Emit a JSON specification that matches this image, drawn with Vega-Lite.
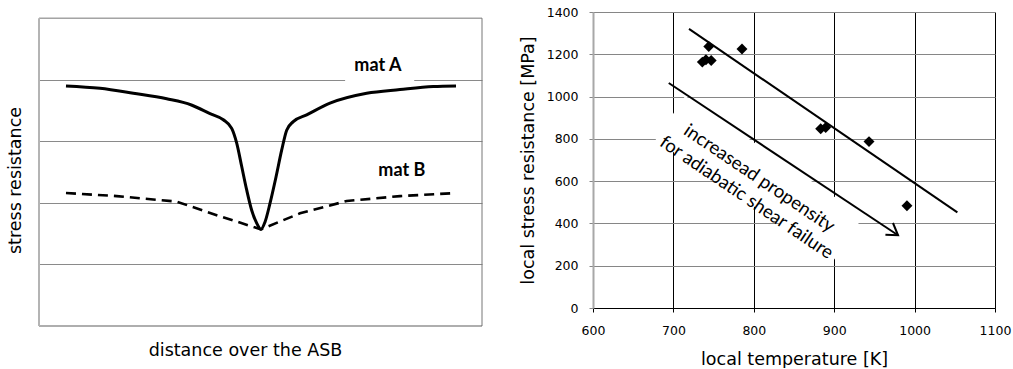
{
  "$schema": "https://vega.github.io/schema/vega-lite/v6.json",
  "background": "white",
  "padding": {"left": 6, "top": 6, "right": 1, "bottom": 0},
  "bounds": "flush",
  "spacing": 111,
  "config": {
    "view": {"stroke": null},
    "font": "DejaVu Sans",
    "axis": {
      "labelFont": "DejaVu Sans",
      "titleFont": "DejaVu Sans",
      "labelColor": "#000000",
      "titleColor": "#000000",
      "titleFontWeight": "normal",
      "titleFontSize": 17.5,
      "labelFontSize": 12.5,
      "labelFlush": false,
      "labelOverlap": false
    }
  },
  "datasets": {
    "frame": [{}],
    "profiles": [
      {"d": 6.09, "s": 3.90, "mat": "mat A"},
      {"d": 13.77, "s": 3.86, "mat": "mat A"},
      {"d": 21.29, "s": 3.78, "mat": "mat A"},
      {"d": 28.83, "s": 3.69, "mat": "mat A"},
      {"d": 34.4, "s": 3.59, "mat": "mat A"},
      {"d": 38.6, "s": 3.45, "mat": "mat A"},
      {"d": 41.6, "s": 3.35, "mat": "mat A"},
      {"d": 43.5, "s": 3.21, "mat": "mat A"},
      {"d": 44.63, "s": 2.97, "mat": "mat A"},
      {"d": 45.76, "s": 2.59, "mat": "mat A"},
      {"d": 46.88, "s": 2.21, "mat": "mat A"},
      {"d": 48.01, "s": 1.88, "mat": "mat A"},
      {"d": 49.14, "s": 1.67, "mat": "mat A"},
      {"d": 50.1, "s": 1.57, "mat": "mat A"},
      {"d": 51.02, "s": 1.69, "mat": "mat A"},
      {"d": 52.14, "s": 1.99, "mat": "mat A"},
      {"d": 53.5, "s": 2.42, "mat": "mat A"},
      {"d": 54.79, "s": 2.86, "mat": "mat A"},
      {"d": 55.91, "s": 3.18, "mat": "mat A"},
      {"d": 57.4, "s": 3.32, "mat": "mat A"},
      {"d": 60.43, "s": 3.43, "mat": "mat A"},
      {"d": 65.69, "s": 3.62, "mat": "mat A"},
      {"d": 73.97, "s": 3.78, "mat": "mat A"},
      {"d": 81.49, "s": 3.84, "mat": "mat A"},
      {"d": 89.01, "s": 3.89, "mat": "mat A"},
      {"d": 94.13, "s": 3.90, "mat": "mat A"},
      {"d": 6.09, "s": 2.16, "mat": "mat B"},
      {"d": 17.54, "s": 2.11, "mat": "mat B"},
      {"d": 31.08, "s": 2.02, "mat": "mat B"},
      {"d": 40.11, "s": 1.80, "mat": "mat B"},
      {"d": 50.1, "s": 1.57, "mat": "mat B"},
      {"d": 58.92, "s": 1.83, "mat": "mat B"},
      {"d": 69.46, "s": 2.03, "mat": "mat B"},
      {"d": 81.49, "s": 2.11, "mat": "mat B"},
      {"d": 94.13, "s": 2.16, "mat": "mat B"}
    ],
    "curveLabels": [
      {"d": 76.5, "s": 4.22, "mat": "mat A"},
      {"d": 81.9, "s": 2.52, "mat": "mat B"}
    ],
    "measurements": [
      {"T": 736, "sigma": 1163},
      {"T": 740.5, "sigma": 1174},
      {"T": 744, "sigma": 1237},
      {"T": 747, "sigma": 1171},
      {"T": 785.3, "sigma": 1225},
      {"T": 883.2, "sigma": 848},
      {"T": 889.4, "sigma": 854},
      {"T": 943.3, "sigma": 787},
      {"T": 990.5, "sigma": 484}
    ],
    "trend": [
      {"T": 719.4, "sigma": 1320, "T_end": 1053.2, "sigma_end": 452}
    ],
    "arrow": [
      {"part": "shaft", "k": 0, "T": 694.2, "sigma": 1064},
      {"part": "shaft", "k": 1, "T": 979.4, "sigma": 344},
      {"part": "head", "k": 0, "T": 963.7, "sigma": 347},
      {"part": "head", "k": 1, "T": 979.4, "sigma": 344},
      {"part": "head", "k": 2, "T": 973.1, "sigma": 402}
    ],
    "note": [
      {"T": 807, "sigma": 614, "text": "increasead propensity\nfor adiabatic shear failure"}
    ]
  },
  "hconcat": [
    {
      "width": 443,
      "height": 314,
      "encoding": {
        "x": {
          "type": "quantitative",
          "scale": {"domain": [0, 100], "nice": false, "zero": false},
          "axis": {
            "title": "distance over the ASB",
            "labels": false, "ticks": false, "domain": false, "grid": false,
            "titlePadding": 15,
            "titleX": 206
          }
        },
        "y": {
          "type": "quantitative",
          "scale": {"domain": [0, 5.1], "nice": false, "zero": false},
          "axis": {
            "title": "stress resistance",
            "labels": false, "ticks": false, "domain": false,
            "grid": true, "values": [1, 2, 3, 4],
            "gridColor": "#8a8a8a", "gridWidth": 1,
            "titlePadding": 15,
            "titleY": 168
          }
        }
      },
      "layer": [
        {
          "data": {"name": "frame"},
          "mark": {"type": "rule", "color": "#767676", "strokeWidth": 1},
          "encoding": {"y": {"datum": 5}, "x": {"datum": 0}, "x2": {"datum": 100}}
        },
        {
          "data": {"name": "frame"},
          "mark": {"type": "rule", "color": "#767676", "strokeWidth": 1},
          "encoding": {"x": {"datum": 100}, "y": {"datum": 0}, "y2": {"datum": 5}}
        },
        {
          "data": {"name": "frame"},
          "mark": {"type": "rule", "color": "#5f5f5f", "strokeWidth": 1.2},
          "encoding": {"y": {"datum": 0}, "x": {"datum": 0}, "x2": {"datum": 100}}
        },
        {
          "data": {"name": "frame"},
          "mark": {"type": "rule", "color": "#b4b4b4", "strokeWidth": 2},
          "encoding": {"x": {"datum": 0}, "y": {"datum": 0}, "y2": {"datum": 5}}
        },
        {
          "data": {"name": "frame"},
          "mark": {"type": "rect", "color": "white"},
          "encoding": {
            "x": {"datum": 69.1}, "x2": {"datum": 84.7},
            "y": {"datum": 3.93}, "y2": {"datum": 4.45}
          }
        },
        {
          "data": {"name": "profiles"},
          "transform": [{"filter": "datum.mat === 'mat A'"}],
          "mark": {"type": "line", "color": "#000000", "strokeWidth": 3, "interpolate": "monotone"},
          "encoding": {"x": {"field": "d"}, "y": {"field": "s"}}
        },
        {
          "data": {"name": "profiles"},
          "transform": [{"filter": "datum.mat === 'mat B'"}],
          "mark": {"type": "line", "color": "#000000", "strokeWidth": 2.6, "strokeDash": [10, 6]},
          "encoding": {"x": {"field": "d"}, "y": {"field": "s"}}
        },
        {
          "data": {"name": "curveLabels"},
          "mark": {"type": "text", "font": "Lato", "fontWeight": "bold", "fontSize": 18, "color": "#000000", "align": "center", "baseline": "middle"},
          "encoding": {"x": {"field": "d"}, "y": {"field": "s"}, "text": {"field": "mat"}}
        }
      ]
    },
    {
      "width": 402,
      "height": 296,
      "encoding": {
        "x": {
          "type": "quantitative",
          "scale": {"domain": [600, 1100], "nice": false, "zero": false},
          "axis": {
            "title": "local temperature [K]",
            "values": [600, 700, 800, 900, 1000, 1100],
            "format": "d",
            "grid": true,
            "gridColor": {"condition": {"test": "datum.value === 600", "value": "#a8a8a8"}, "value": "#000000"},
            "gridWidth": 1,
            "domainColor": "#000000",
            "tickColor": "#000000",
            "tickSize": 4,
            "labelPadding": 12,
            "titlePadding": 14
          }
        },
        "y": {
          "type": "quantitative",
          "scale": {"domain": [0, 1400], "nice": false, "zero": false},
          "axis": {
            "title": "local stress resistance [MPa]",
            "values": [0, 200, 400, 600, 800, 1000, 1200, 1400],
            "format": "d",
            "grid": true,
            "gridColor": {"condition": {"test": "datum.value === 0", "value": "#000000"}, "value": "#868686"},
            "gridWidth": 1,
            "domainColor": "#a8a8a8",
            "domainWidth": 2,
            "tickColor": "#868686",
            "tickSize": 4,
            "labelPadding": 11,
            "titlePadding": 9
          }
        }
      },
      "layer": [
        {
          "data": {"name": "note"},
          "mark": {
            "type": "point",
            "shape": "M-1,-0.2465H1V0.2465H-1Z",
            "size": 46225,
            "angle": 34,
            "filled": true,
            "color": "white",
            "opacity": 1,
            "strokeWidth": 0
          },
          "encoding": {"x": {"field": "T"}, "y": {"field": "sigma"}}
        },
        {
          "data": {"name": "trend"},
          "mark": {"type": "rule", "color": "#000000", "strokeWidth": 2},
          "encoding": {
            "x": {"field": "T"}, "y": {"field": "sigma"},
            "x2": {"field": "T_end"}, "y2": {"field": "sigma_end"}
          }
        },
        {
          "data": {"name": "arrow"},
          "mark": {"type": "line", "color": "#000000", "strokeWidth": 2, "strokeJoin": "miter"},
          "encoding": {
            "x": {"field": "T"}, "y": {"field": "sigma"},
            "detail": {"field": "part"}, "order": {"field": "k"}
          }
        },
        {
          "data": {"name": "measurements"},
          "mark": {"type": "point", "shape": "diamond", "filled": true, "color": "#000000", "opacity": 1, "size": 120},
          "encoding": {"x": {"field": "T"}, "y": {"field": "sigma"}}
        },
        {
          "data": {"name": "note"},
          "mark": {
            "type": "text", "font": "Lato", "fontSize": 18.5, "color": "#000000",
            "angle": 34, "align": "center", "baseline": "middle",
            "lineBreak": "\n", "lineHeight": 23
          },
          "encoding": {"x": {"field": "T"}, "y": {"field": "sigma"}, "text": {"field": "text"}}
        }
      ]
    }
  ]
}
